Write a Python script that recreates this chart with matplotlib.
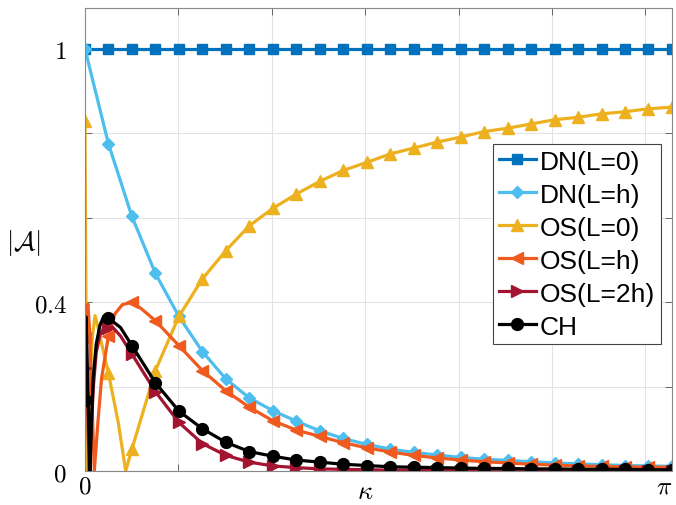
import numpy as np
import matplotlib
matplotlib.use("Agg")
import matplotlib.pyplot as plt

plt.rcParams['mathtext.fontset'] = 'cm'

# marker positions (26 points from 0 to pi)
kappa = np.linspace(0, np.pi, 26)

dn_l0 = [1.0] * 26
dn_lh = [1.0, 0.775, 0.603, 0.468, 0.366, 0.283, 0.218, 0.173, 0.143, 0.118,
         0.095, 0.077, 0.063, 0.052, 0.044, 0.038, 0.032, 0.028, 0.025, 0.022,
         0.019, 0.017, 0.015, 0.013, 0.012, 0.011]
os_l0 = [0.83, 0.232, 0.052, 0.238, 0.366, 0.455, 0.522, 0.581, 0.622, 0.656,
         0.686, 0.712, 0.731, 0.751, 0.765, 0.779, 0.791, 0.804, 0.812, 0.822,
         0.832, 0.838, 0.846, 0.851, 0.858, 0.862]
os_lh = [0.314, 0.32, 0.40, 0.356, 0.297, 0.238, 0.190, 0.151, 0.119, 0.097,
         0.082, 0.067, 0.055, 0.045, 0.037, 0.031, 0.026, 0.022, 0.019, 0.016,
         0.014, 0.012, 0.011, 0.010, 0.009, 0.009]
os_l2h = [0.245, 0.338, 0.277, 0.188, 0.115, 0.065, 0.037, 0.021, 0.012, 0.008,
          0.005, 0.004, 0.003, 0.002, 0.002, 0.001, 0.001, 0.001, 0.001, 0.001,
          0.0, 0.0, 0.0, 0.0, 0.0, 0.0]
ch = [0.167, 0.362, 0.297, 0.209, 0.142, 0.100, 0.068, 0.046, 0.035, 0.026,
      0.021, 0.016, 0.013, 0.010, 0.009, 0.008, 0.007, 0.006, 0.006, 0.005,
      0.005, 0.004, 0.004, 0.004, 0.003, 0.003]

# extra line points (no markers) read near kappa = 0
os_l0_fk = [0.01, 0.02, 0.03, 0.04, 0.054, 0.07, 0.09, 0.178, 0.218]
os_l0_fv = [0.0, 0.13, 0.24, 0.32, 0.368, 0.34, 0.30, 0.115, 0.0]
os_lh_fk = [0.008, 0.016, 0.025, 0.035, 0.05, 0.07, 0.089, 0.16, 0.2, 0.3]
os_lh_fv = [0.38, 0.395, 0.33, 0.2, 0.0, 0.12, 0.22, 0.372, 0.394, 0.385]
os_l2h_fk = [0.005, 0.012, 0.022, 0.035, 0.045, 0.06, 0.08, 0.1, 0.145, 0.19]
os_l2h_fv = [0.34, 0.22, 0.0, 0.11, 0.2, 0.28, 0.322, 0.338, 0.342, 0.32]
ch_fk = [0.006, 0.014, 0.027, 0.035, 0.044, 0.06, 0.08, 0.1, 0.19]
ch_fv = [0.365, 0.22, 0.0, 0.12, 0.22, 0.3, 0.345, 0.366, 0.34]

labels = ['DN(L=0)', 'DN(L=h)', 'OS(L=0)', 'OS(L=h)', 'OS(L=2h)', 'CH']
colors = ['#0072BD', '#4DBEEE', '#EDB120', '#F05A1E', '#A2142F', '#000000']
markers = ['s', 'D', '^', '<', '>', 'o']
msizes = [7, 6.5, 9, 9, 9, 8.5]


def merge(mv, fk=None, fv=None):
    fk = [] if fk is None else fk
    fv = [] if fv is None else fv
    x = np.concatenate([kappa, fk])
    y = np.concatenate([mv, fv])
    is_m = np.concatenate([np.ones(len(kappa), bool), np.zeros(len(fk), bool)])
    o = np.argsort(x, kind='stable')
    return x[o], y[o], list(np.where(is_m[o])[0])


series = [merge(dn_l0), merge(dn_lh), merge(os_l0, os_l0_fk, os_l0_fv),
          merge(os_lh, os_lh_fk, os_lh_fv), merge(os_l2h, os_l2h_fk, os_l2h_fv),
          merge(ch, ch_fk, ch_fv)]

fig = plt.figure(figsize=(6.76, 5.06), dpi=100)
ax = fig.add_axes([0.1257, 0.0672, 0.8683, 0.9144])

for (x, y, idx), lab, c, m, ms in zip(series, labels, colors, markers, msizes):
    ax.plot(x, y, color=c, lw=2.3, marker=m, ms=ms, markevery=idx, label=lab)

ax.set_xlim(0, np.pi)
ax.set_ylim(0, 1.096)
ax.set_xticks([0, 0.5, 1.0, 1.5, 2.0, 2.5, 3.0, np.pi])
ax.set_xticklabels(['$0$', '', '', '', '', '', '', r'$\pi$'])
ax.get_xticklabels()[-1].set_horizontalalignment('right')
ax.set_yticks([0, 0.2, 0.4, 0.6, 0.8, 1.0])
ax.set_yticklabels(['$0$', '', '$0.4$', '', '', '$1$'])
ax.tick_params(direction='in', top=True, right=True, length=5, width=0.6,
               color='#555555', labelsize=18)
ax.tick_params(axis='y', pad=13)
ax.tick_params(axis='x', pad=2)
ax.grid(True, color='#e3e3e3', lw=0.8)
ax.set_axisbelow(True)
for s in ax.spines.values():
    s.set_color('#888888')
    s.set_linewidth(0.8)

ax.set_xlabel(r'$\kappa$', fontsize=19, va='center')
ax.xaxis.set_label_coords(0.477, -0.044)
ax.set_ylabel(r'$|\mathcal{A}|$', fontsize=19, rotation=0, va='center', ha='center')
ax.yaxis.set_label_coords(-0.106, 0.495)

leg = ax.legend(loc='upper left', bbox_to_anchor=(0.695, 0.707), fancybox=False,
                framealpha=1, edgecolor='#444444', handlelength=1.4,
                handletextpad=0.15, labelspacing=0.34, borderpad=0.22,
                borderaxespad=0, prop={'family': 'Liberation Sans', 'size': 19})
leg.get_frame().set_linewidth(0.8)

fig.savefig('out.png', dpi=100)
